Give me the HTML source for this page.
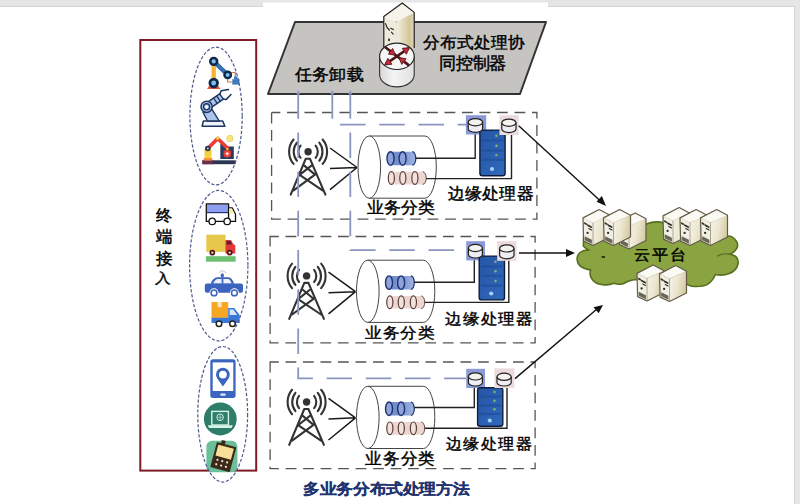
<!DOCTYPE html>
<html><head><meta charset="utf-8"><style>
html,body{margin:0;padding:0;background:#fff;}
body{width:800px;height:504px;overflow:hidden;position:relative;font-family:"Liberation Sans", sans-serif;}
svg{position:absolute;left:0;top:0;}
svg text{font-family:"Liberation Sans", sans-serif;}
</style></head><body>
<svg width="800" height="504" viewBox="0 0 800 504">
<defs>
<linearGradient id="gtube" x1="0" x2="1" y1="0" y2="0"><stop offset="0" stop-color="#6e88c9"/><stop offset="0.55" stop-color="#7d96d3"/><stop offset="1" stop-color="#a3b5e4"/></linearGradient>
<linearGradient id="gb" x1="0" x2="1" y1="0" y2="0"><stop offset="0" stop-color="#4f6fb8"/><stop offset="0.5" stop-color="#7a93d0"/><stop offset="1" stop-color="#aabde8"/></linearGradient>
<linearGradient id="gs" x1="0" x2="1" y1="0" y2="1"><stop offset="0" stop-color="#2555a6"/><stop offset="1" stop-color="#3069bd"/></linearGradient>
<linearGradient id="gsv" x1="0" x2="1" y1="0" y2="0.3"><stop offset="0" stop-color="#f6f3e8"/><stop offset="0.55" stop-color="#ece6d0"/><stop offset="1" stop-color="#d6cca6"/></linearGradient>
<linearGradient id="gtw" x1="0" x2="1" y1="0" y2="0"><stop offset="0" stop-color="#f3f0e2"/><stop offset="0.75" stop-color="#d3c597"/><stop offset="1" stop-color="#e4dcc0"/></linearGradient>
<linearGradient id="gcy" x1="0" x2="1" y1="0" y2="0"><stop offset="0" stop-color="#d8d8d8"/><stop offset="0.4" stop-color="#f4f4f4"/><stop offset="1" stop-color="#e0e0e0"/></linearGradient>
</defs>
<rect x="0" y="0" width="263" height="7" fill="#e5e5e5"/>
<rect x="0" y="6" width="263" height="1" fill="#d4d4d4"/>
<rect x="263" y="0" width="285" height="2.5" fill="#e6e6e6"/>
<rect x="548" y="0" width="252" height="7" fill="#e5e5e5"/>
<rect x="548" y="6" width="246" height="1" fill="#d4d4d4"/>
<rect x="794" y="0" width="6" height="504" fill="#e6e6e6"/>
<rect x="794" y="6" width="1" height="498" fill="#d4d4d4"/>

<path d="M295,22 L546,22 L520,94 L268,94 Z" fill="#c6c4c1" stroke="#333" stroke-width="2" stroke-linejoin="round"/>
<text transform="translate(294.97,79.65) scale(1,0.9429)" x="0" y="0" font-size="16.60" letter-spacing="0.73"  fill="#000" stroke="#000" stroke-width="0.45">任务卸载</text>
<text transform="translate(422.53,48.35) scale(1,0.9598)" x="0" y="0" font-size="16.74" letter-spacing="0.86"  fill="#000" stroke="#000" stroke-width="0.45">分布式处理协</text>
<text transform="translate(438.96,69.47) scale(1,0.9917)" x="0" y="0" font-size="16.98" letter-spacing="-0.28"  fill="#000" stroke="#000" stroke-width="0.45">同控制器</text>

<path d="M383.8,16.4 L396.5,21.5 L396.5,52 L383.8,50 Z" fill="#efebdc"/>
<path d="M396.5,21.5 L414.2,12.4 L414.2,48 L396.5,52 Z" fill="url(#gtw)"/>
<path d="M383.8,16.4 L402.3,3 L414.2,12.4 L396.5,21.5 Z" fill="#f5f3ea"/>
<path d="M383.8,50 L383.8,16.4 L402.3,3 L414.2,12.4 L414.2,48" fill="none" stroke="#222" stroke-width="1.2" stroke-linejoin="round"/>
<path d="M385.6,23.6 Q386.2,27.5 389.6,30.2 M390.8,28.2 L393.4,29.6 M391.4,32.2 L393.2,34.2" fill="none" stroke="#222" stroke-width="1.1" stroke-linecap="round"/>
<ellipse cx="389" cy="39.8" rx="1" ry="1.5" fill="#333"/>
<path d="M379.6,56.3 L379.6,74.5 A17.3,12.4 0 0 0 414.2,74.5 L414.2,56.3" fill="url(#gcy)" stroke="#333" stroke-width="1.1"/>
<ellipse cx="396.9" cy="56.3" rx="17.3" ry="13.2" fill="#f6f6f6" stroke="#222" stroke-width="1.1"/>
<path d="M385,47 L409,65.4 M385.6,64.1 L408.5,48.3" stroke="#4a1414" stroke-width="2.6"/>
<path d="M409.60,47.60 L406.33,54.27 L402.21,48.37 Z M384.60,65.00 L387.87,58.33 L391.99,64.23 Z M395.60,55.20 L388.25,54.11 L392.63,48.39 Z M398.80,57.60 L406.15,58.69 L401.77,64.41 Z" fill="#c8283c" stroke="#4a1414" stroke-width="0.8" stroke-linejoin="round"/>

<g fill="none" stroke="#555" stroke-width="1.3" stroke-dasharray="10.8,6.7" stroke-dashoffset="2.1">
<rect x="271.6" y="112.5" width="265.3" height="106.6"/>
<rect x="270.1" y="236.5" width="265" height="106.4"/>
<rect x="270.1" y="362" width="265" height="106.7"/>
</g>
<g transform="translate(0,0)">
<circle cx="308.1" cy="151.7" r="3.7" fill="#333"/>
<path d="M300.56,145.60 A9.7,9.7 0 0 0 300.56,157.80" fill="none" stroke="#333" stroke-width="2.1" stroke-linecap="round"/>
<path d="M315.64,145.60 A9.7,9.7 0 0 1 315.64,157.80" fill="none" stroke="#333" stroke-width="2.1" stroke-linecap="round"/>
<path d="M296.91,142.64 A14.4,14.4 0 0 0 296.91,160.76" fill="none" stroke="#333" stroke-width="2.1" stroke-linecap="round"/>
<path d="M319.29,142.64 A14.4,14.4 0 0 1 319.29,160.76" fill="none" stroke="#333" stroke-width="2.1" stroke-linecap="round"/>
<path d="M293.55,139.49 A19.0,19.0 0 0 0 293.55,163.91" fill="none" stroke="#333" stroke-width="2.1" stroke-linecap="round"/>
<path d="M322.65,139.49 A19.0,19.0 0 0 1 322.65,163.91" fill="none" stroke="#333" stroke-width="2.1" stroke-linecap="round"/>
<path d="M290.7,194.6 L305.8,158.7 L309.9,158.7 L325.4,194.6 M304.3,165.6 L315,174.6 M311.4,165.6 L299.6,174.9 M299.6,174.9 L322.5,190.3 M315,174.6 L293.6,190.3" fill="none" stroke="#333" stroke-width="2.1" stroke-linecap="round" stroke-linejoin="round"/>
<path d="M330,148 L357,167.5 M330,168.6 L357,167.5 M330,189.7 L357,167.5" stroke="#1a1a1a" stroke-width="1.5" fill="none"/>
<path d="M369.3,136 L424.8,136 A11.5,31.1 0 0 1 424.8,198.2 L369.3,198.2" fill="#fff" stroke="#444" stroke-width="1"/>
<ellipse cx="369.3" cy="167.1" rx="11.3" ry="31.1" fill="#fff" stroke="#444" stroke-width="1"/>
<path d="M390.5,151.7 L412.3,151.7 A3.5,6.75 0 0 1 412.3,165.2 L390.5,165.2 Z" fill="url(#gtube)"/>
<path d="M412.3,151.7 A3.5,6.75 0 0 1 412.3,165.2" fill="none" stroke="#1e3370" stroke-width="1.2"/>
<ellipse cx="390.5" cy="158.45" rx="3.5" ry="6.75" fill="#8ea3da" stroke="#1e3370" stroke-width="1.4"/>
<ellipse cx="402.6" cy="158.45" rx="3.5" ry="6.75" fill="#8ea3da" stroke="#1e3370" stroke-width="1.4"/>
<path d="M391.35,171.7 L422.7,171.7 A3.5,6.35 0 0 1 422.7,184.4 L391.35,184.4 Z" fill="#ecd6d1"/>
<path d="M422.7,171.7 A3.5,6.35 0 0 1 422.7,184.4" fill="none" stroke="#6a4a45" stroke-width="1"/>
<ellipse cx="391.35" cy="178.05" rx="3.05" ry="6.35" fill="#f2e2de" stroke="#5a3a35" stroke-width="1.2"/>
<ellipse cx="402.8" cy="178.05" rx="3.05" ry="6.35" fill="#f2e2de" stroke="#5a3a35" stroke-width="1.2"/>
<ellipse cx="414.9" cy="178.05" rx="3.05" ry="6.35" fill="#f2e2de" stroke="#5a3a35" stroke-width="1.2"/>
</g>
<path d="M415.8,158.3 L475.2,158.3 L475.2,133.5" fill="none" stroke="#222" stroke-width="1.4"/>
<path d="M426.2,178.6 L511.5,178.6 L511.5,134" fill="none" stroke="#222" stroke-width="1.4"/>
<rect x="465.9" y="115.2" width="20.30000000000001" height="19.299999999999997" fill="#8b99d8"/>
<rect x="479.9" y="130.1" width="25.200000000000024" height="45.6" rx="2.5" fill="url(#gs)" stroke="#0f1d3a" stroke-width="1.4"/>
<rect x="481.7" y="139.2" width="21.600000000000023" height="2.4" fill="#1d4890" opacity="0.55"/>
<rect x="481.7" y="149.3" width="21.600000000000023" height="2.4" fill="#1d4890" opacity="0.55"/>
<rect x="481.7" y="158.6" width="21.600000000000023" height="2.4" fill="#1d4890" opacity="0.55"/>
<circle cx="496.4" cy="135.7" r="1.2" fill="#86b86a"/>
<circle cx="496.4" cy="145.8" r="1.2" fill="#86b86a"/>
<circle cx="496.4" cy="155.1" r="1.2" fill="#86b86a"/>
<circle cx="492" cy="169" r="2.1" fill="#a8d0f5"/>
<rect x="499.5" y="115.2" width="19.100000000000023" height="19.799999999999997" fill="#ecdadc"/>
<path d="M468.2,122.19999999999999 L468.2,128.70000000000002 A7.200000000000017,3.6 0 0 0 482.6,128.70000000000002 L482.6,122.19999999999999" fill="#eeeef2" stroke="#222" stroke-width="1.2"/>
<ellipse cx="475.4" cy="122.19999999999999" rx="7.200000000000017" ry="3.6" fill="#f4f3ee" stroke="#222" stroke-width="1.2"/>
<path d="M501.8,122.69999999999999 L501.8,129.0 A7.099999999999994,3.6 0 0 0 516,129.0 L516,122.69999999999999" fill="#eeeef2" stroke="#222" stroke-width="1.2"/>
<ellipse cx="508.9" cy="122.69999999999999" rx="7.099999999999994" ry="3.6" fill="#f4f3ee" stroke="#222" stroke-width="1.2"/>
<text transform="translate(366.50,213.27) scale(1,0.9501)" x="0" y="0" font-size="16.80" letter-spacing="0.85"  fill="#000" stroke="#000" stroke-width="0.45">业务分类</text>
<text transform="translate(447.65,199.16) scale(1,0.9473)" x="0" y="0" font-size="16.63" letter-spacing="0.83"  fill="#000" stroke="#000" stroke-width="0.45">边缘处理器</text>
<g transform="translate(-1.5,124.2)">
<circle cx="308.1" cy="151.7" r="3.7" fill="#333"/>
<path d="M300.56,145.60 A9.7,9.7 0 0 0 300.56,157.80" fill="none" stroke="#333" stroke-width="2.1" stroke-linecap="round"/>
<path d="M315.64,145.60 A9.7,9.7 0 0 1 315.64,157.80" fill="none" stroke="#333" stroke-width="2.1" stroke-linecap="round"/>
<path d="M296.91,142.64 A14.4,14.4 0 0 0 296.91,160.76" fill="none" stroke="#333" stroke-width="2.1" stroke-linecap="round"/>
<path d="M319.29,142.64 A14.4,14.4 0 0 1 319.29,160.76" fill="none" stroke="#333" stroke-width="2.1" stroke-linecap="round"/>
<path d="M293.55,139.49 A19.0,19.0 0 0 0 293.55,163.91" fill="none" stroke="#333" stroke-width="2.1" stroke-linecap="round"/>
<path d="M322.65,139.49 A19.0,19.0 0 0 1 322.65,163.91" fill="none" stroke="#333" stroke-width="2.1" stroke-linecap="round"/>
<path d="M290.7,194.6 L305.8,158.7 L309.9,158.7 L325.4,194.6 M304.3,165.6 L315,174.6 M311.4,165.6 L299.6,174.9 M299.6,174.9 L322.5,190.3 M315,174.6 L293.6,190.3" fill="none" stroke="#333" stroke-width="2.1" stroke-linecap="round" stroke-linejoin="round"/>
<path d="M330,148 L357,167.5 M330,168.6 L357,167.5 M330,189.7 L357,167.5" stroke="#1a1a1a" stroke-width="1.5" fill="none"/>
<path d="M369.3,136 L424.8,136 A11.5,31.1 0 0 1 424.8,198.2 L369.3,198.2" fill="#fff" stroke="#444" stroke-width="1"/>
<ellipse cx="369.3" cy="167.1" rx="11.3" ry="31.1" fill="#fff" stroke="#444" stroke-width="1"/>
<path d="M390.5,151.7 L412.3,151.7 A3.5,6.75 0 0 1 412.3,165.2 L390.5,165.2 Z" fill="url(#gtube)"/>
<path d="M412.3,151.7 A3.5,6.75 0 0 1 412.3,165.2" fill="none" stroke="#1e3370" stroke-width="1.2"/>
<ellipse cx="390.5" cy="158.45" rx="3.5" ry="6.75" fill="#8ea3da" stroke="#1e3370" stroke-width="1.4"/>
<ellipse cx="402.6" cy="158.45" rx="3.5" ry="6.75" fill="#8ea3da" stroke="#1e3370" stroke-width="1.4"/>
<path d="M391.35,171.7 L422.7,171.7 A3.5,6.35 0 0 1 422.7,184.4 L391.35,184.4 Z" fill="#ecd6d1"/>
<path d="M422.7,171.7 A3.5,6.35 0 0 1 422.7,184.4" fill="none" stroke="#6a4a45" stroke-width="1"/>
<ellipse cx="391.35" cy="178.05" rx="3.05" ry="6.35" fill="#f2e2de" stroke="#5a3a35" stroke-width="1.2"/>
<ellipse cx="402.8" cy="178.05" rx="3.05" ry="6.35" fill="#f2e2de" stroke="#5a3a35" stroke-width="1.2"/>
<ellipse cx="414.9" cy="178.05" rx="3.05" ry="6.35" fill="#f2e2de" stroke="#5a3a35" stroke-width="1.2"/>
</g>
<path d="M414.3,282.2 L474.3,282.2 L474.3,259.4" fill="none" stroke="#222" stroke-width="1.4"/>
<path d="M424.7,302.4 L508.8,302.4 L508.8,259.8" fill="none" stroke="#222" stroke-width="1.4"/>
<rect x="466.2" y="241.2" width="18.80000000000001" height="19.19999999999999" fill="#8b99d8"/>
<rect x="479.2" y="256.1" width="25.29999999999999" height="43.80000000000002" rx="2.5" fill="url(#gs)" stroke="#0f1d3a" stroke-width="1.4"/>
<rect x="481.0" y="265.2" width="21.69999999999999" height="2.4" fill="#1d4890" opacity="0.55"/>
<rect x="481.0" y="274.7" width="21.69999999999999" height="2.4" fill="#1d4890" opacity="0.55"/>
<rect x="481.0" y="284.5" width="21.69999999999999" height="2.4" fill="#1d4890" opacity="0.55"/>
<circle cx="495.5" cy="261.7" r="1.2" fill="#86b86a"/>
<circle cx="495.5" cy="271.2" r="1.2" fill="#86b86a"/>
<circle cx="495.5" cy="281" r="1.2" fill="#86b86a"/>
<circle cx="491.2" cy="293.5" r="2.1" fill="#a8d0f5"/>
<rect x="497.2" y="241.2" width="19.19999999999999" height="19.600000000000023" fill="#ecdadc"/>
<path d="M468.4,248.0 L468.4,254.4 A7.0,3.6 0 0 0 482.4,254.4 L482.4,248.0" fill="#eeeef2" stroke="#222" stroke-width="1.2"/>
<ellipse cx="475.4" cy="248.0" rx="7.0" ry="3.6" fill="#f4f3ee" stroke="#222" stroke-width="1.2"/>
<path d="M499.6,248.4 L499.6,255.20000000000002 A7.199999999999989,3.6 0 0 0 514,255.20000000000002 L514,248.4" fill="#eeeef2" stroke="#222" stroke-width="1.2"/>
<ellipse cx="506.8" cy="248.4" rx="7.199999999999989" ry="3.6" fill="#f4f3ee" stroke="#222" stroke-width="1.2"/>
<text transform="translate(365.00,338.33) scale(1,0.9007)" x="0" y="0" font-size="16.37" letter-spacing="0.85"  fill="#000" stroke="#000" stroke-width="0.45">业务分类</text>
<text transform="translate(445.28,323.55) scale(1,0.9062)" x="0" y="0" font-size="16.39" letter-spacing="0.92"  fill="#000" stroke="#000" stroke-width="0.45">边缘处理器</text>
<g transform="translate(-1.5,250.3)">
<circle cx="308.1" cy="151.7" r="3.7" fill="#333"/>
<path d="M300.56,145.60 A9.7,9.7 0 0 0 300.56,157.80" fill="none" stroke="#333" stroke-width="2.1" stroke-linecap="round"/>
<path d="M315.64,145.60 A9.7,9.7 0 0 1 315.64,157.80" fill="none" stroke="#333" stroke-width="2.1" stroke-linecap="round"/>
<path d="M296.91,142.64 A14.4,14.4 0 0 0 296.91,160.76" fill="none" stroke="#333" stroke-width="2.1" stroke-linecap="round"/>
<path d="M319.29,142.64 A14.4,14.4 0 0 1 319.29,160.76" fill="none" stroke="#333" stroke-width="2.1" stroke-linecap="round"/>
<path d="M293.55,139.49 A19.0,19.0 0 0 0 293.55,163.91" fill="none" stroke="#333" stroke-width="2.1" stroke-linecap="round"/>
<path d="M322.65,139.49 A19.0,19.0 0 0 1 322.65,163.91" fill="none" stroke="#333" stroke-width="2.1" stroke-linecap="round"/>
<path d="M290.7,194.6 L305.8,158.7 L309.9,158.7 L325.4,194.6 M304.3,165.6 L315,174.6 M311.4,165.6 L299.6,174.9 M299.6,174.9 L322.5,190.3 M315,174.6 L293.6,190.3" fill="none" stroke="#333" stroke-width="2.1" stroke-linecap="round" stroke-linejoin="round"/>
<path d="M330,148 L357,167.5 M330,168.6 L357,167.5 M330,189.7 L357,167.5" stroke="#1a1a1a" stroke-width="1.5" fill="none"/>
<path d="M369.3,136 L424.8,136 A11.5,31.1 0 0 1 424.8,198.2 L369.3,198.2" fill="#fff" stroke="#444" stroke-width="1"/>
<ellipse cx="369.3" cy="167.1" rx="11.3" ry="31.1" fill="#fff" stroke="#444" stroke-width="1"/>
<path d="M390.5,151.7 L412.3,151.7 A3.5,6.75 0 0 1 412.3,165.2 L390.5,165.2 Z" fill="url(#gtube)"/>
<path d="M412.3,151.7 A3.5,6.75 0 0 1 412.3,165.2" fill="none" stroke="#1e3370" stroke-width="1.2"/>
<ellipse cx="390.5" cy="158.45" rx="3.5" ry="6.75" fill="#8ea3da" stroke="#1e3370" stroke-width="1.4"/>
<ellipse cx="402.6" cy="158.45" rx="3.5" ry="6.75" fill="#8ea3da" stroke="#1e3370" stroke-width="1.4"/>
<path d="M391.35,171.7 L422.7,171.7 A3.5,6.35 0 0 1 422.7,184.4 L391.35,184.4 Z" fill="#ecd6d1"/>
<path d="M422.7,171.7 A3.5,6.35 0 0 1 422.7,184.4" fill="none" stroke="#6a4a45" stroke-width="1"/>
<ellipse cx="391.35" cy="178.05" rx="3.05" ry="6.35" fill="#f2e2de" stroke="#5a3a35" stroke-width="1.2"/>
<ellipse cx="402.8" cy="178.05" rx="3.05" ry="6.35" fill="#f2e2de" stroke="#5a3a35" stroke-width="1.2"/>
<ellipse cx="414.9" cy="178.05" rx="3.05" ry="6.35" fill="#f2e2de" stroke="#5a3a35" stroke-width="1.2"/>
</g>
<path d="M414.3,407.5 L474.3,407.5 L474.3,387" fill="none" stroke="#222" stroke-width="1.4"/>
<path d="M424.7,428.2 L507,428.2 L507,387" fill="none" stroke="#222" stroke-width="1.4"/>
<rect x="466.2" y="368.8" width="18.80000000000001" height="19.19999999999999" fill="#8b99d8"/>
<rect x="477.59999999999997" y="387.8" width="25.200000000000024" height="38.49999999999998" rx="2.5" fill="url(#gs)" stroke="#0f1d3a" stroke-width="1.4"/>
<rect x="479.4" y="395.4" width="21.600000000000023" height="2.4" fill="#1d4890" opacity="0.55"/>
<rect x="479.4" y="404.3" width="21.600000000000023" height="2.4" fill="#1d4890" opacity="0.55"/>
<rect x="479.4" y="412.7" width="21.600000000000023" height="2.4" fill="#1d4890" opacity="0.55"/>
<circle cx="494.5" cy="391.9" r="1.2" fill="#86b86a"/>
<circle cx="494.5" cy="400.8" r="1.2" fill="#86b86a"/>
<circle cx="494.5" cy="409.2" r="1.2" fill="#86b86a"/>
<circle cx="489.8" cy="420.5" r="2.1" fill="#a8d0f5"/>
<rect x="494.4" y="368.4" width="20.0" height="19.600000000000023" fill="#ecdadc"/>
<path d="M468.4,376.40000000000003 L468.4,382.4 A7.0,3.6 0 0 0 482.4,382.4 L482.4,376.40000000000003" fill="#eeeef2" stroke="#222" stroke-width="1.2"/>
<ellipse cx="475.4" cy="376.40000000000003" rx="7.0" ry="3.6" fill="#f4f3ee" stroke="#222" stroke-width="1.2"/>
<path d="M497,376.8 L497,382.4 A7.099999999999994,3.6 0 0 0 511.2,382.4 L511.2,376.8" fill="#eeeef2" stroke="#222" stroke-width="1.2"/>
<ellipse cx="504.1" cy="376.8" rx="7.099999999999994" ry="3.6" fill="#f4f3ee" stroke="#222" stroke-width="1.2"/>
<text transform="translate(365.00,463.69) scale(1,0.9677)" x="0" y="0" font-size="17.01" letter-spacing="0.48"  fill="#000" stroke="#000" stroke-width="0.45">业务分类</text>
<text transform="translate(445.64,448.54) scale(1,0.9304)" x="0" y="0" font-size="16.50" letter-spacing="0.95"  fill="#000" stroke="#000" stroke-width="0.45">边缘处理器</text>
<g fill="none" stroke="#8a95c0" stroke-width="1.8" stroke-dasharray="25.5,13.7">
<path d="M298.2,93.2 L298.2,378.4 L466,378.4"/>
<path d="M332.3,93.2 L332.3,124.6 L466,124.6"/>
<path d="M350.3,93.2 L350.3,250.2 L462,250.2"/>
</g>
<g fill="#8a95c0">
<path d="M298.2,90 l-1.9,4 l3.8,0 z"/><path d="M332.3,90 l-1.9,4 l3.8,0 z"/><path d="M350.3,90 l-1.9,4 l3.8,0 z"/>
</g>

<g stroke="#111" stroke-width="1.4" fill="none">
<path d="M518.7,125.7 L601,201.5"/>
<path d="M519,253 L568,253"/>
<path d="M515,378.6 L597,309"/>
</g>
<g fill="#111">
<path d="M606,206 L596.5,201.8 L601.9,196 Z"/>
<path d="M575,253 L566,249 L566,257 Z"/>
<path d="M603,305 L598.7,313.3 L593.5,307.2 Z"/>
</g>

<path d="M583.4,246.2 Q586,249 589.5,250.3 C581,249 576.5,255 577.2,259.6 C577.5,265 582,268.5 590.6,269.9 C588.5,276 593,284.5 603,284.6 C607,285.2 611,284.5 614,283.3 C618,285 623,284.3 625.6,282.5 C628,281 632,280 636,279.5 L686,283 C688,285.5 692,286.6 695,286.5 C700,286.6 705,285.8 707.5,284.4 C711,282 713.5,279 715.5,274.5 C724,276.5 736,273.5 738,264 C738.8,258 735,255 730.3,254.2 C736,251.5 739.5,246 736.5,241.5 C734,237.5 730,235.8 726.8,236.1 L712,222 L664,223 C660,221.5 652,221 646,224.3 L600,232 L583.5,238 Z" fill="#8aa442" stroke="#56701f" stroke-width="1.6"/>
<path d="M717,256.3 Q722,253.2 730.3,254.2" fill="none" stroke="#55701e" stroke-width="1.3"/>
<rect x="601.6" y="256" width="3.4" height="2" fill="#3a3a12"/>
<g transform="translate(583,209.5)">
<path d="M0,8.4 L10,13.2 L10,36 L0.6,31.6 Z" fill="#f1efe4"/>
<path d="M10,13.2 L27,5.8 L27,27.5 L10,36 Z" fill="url(#gsv)"/>
<path d="M0,8.4 L16.2,0 L27,5.8 L10,13.2 Z" fill="#faf9f3"/>
<path d="M0,8.4 L10,13.2 L27,5.8" fill="none" stroke="#d8d2ba" stroke-width="0.7"/>
<path d="M10,13.2 L10,36" stroke="#9a947a" stroke-width="0.8"/>
<path d="M1.2,12.6 L3.9,13.9 L3.9,15.7 L1.2,14.4 Z M4.2,14.6 L8.9,16.9 L8.9,18.7 L4.2,16.4 Z M5.4,18.2 L8.9,19.9 L8.9,21.3 L5.4,19.6 Z" fill="#2e2c22"/>
<circle cx="4.6" cy="23.4" r="1.15" fill="#2e2c22"/>
<path d="M1.7,26.8 L8.9,30.3 L8.9,34.2 L1.7,30.7 Z" fill="#6a6555"/>
<path d="M0,8.4 L16.2,0 L27,5.8 L27,27.5 L10,36 L0.6,31.6 Z" fill="none" stroke="#625c46" stroke-width="1.2" stroke-linejoin="round"/>
</g>
<g transform="translate(619,213)">
<path d="M0,8.4 L10,13.2 L10,36 L0.6,31.6 Z" fill="#f1efe4"/>
<path d="M10,13.2 L27,5.8 L27,27.5 L10,36 Z" fill="url(#gsv)"/>
<path d="M0,8.4 L16.2,0 L27,5.8 L10,13.2 Z" fill="#faf9f3"/>
<path d="M0,8.4 L10,13.2 L27,5.8" fill="none" stroke="#d8d2ba" stroke-width="0.7"/>
<path d="M10,13.2 L10,36" stroke="#9a947a" stroke-width="0.8"/>
<path d="M1.2,12.6 L3.9,13.9 L3.9,15.7 L1.2,14.4 Z M4.2,14.6 L8.9,16.9 L8.9,18.7 L4.2,16.4 Z M5.4,18.2 L8.9,19.9 L8.9,21.3 L5.4,19.6 Z" fill="#2e2c22"/>
<circle cx="4.6" cy="23.4" r="1.15" fill="#2e2c22"/>
<path d="M1.7,26.8 L8.9,30.3 L8.9,34.2 L1.7,30.7 Z" fill="#6a6555"/>
<path d="M0,8.4 L16.2,0 L27,5.8 L27,27.5 L10,36 L0.6,31.6 Z" fill="none" stroke="#625c46" stroke-width="1.2" stroke-linejoin="round"/>
</g>
<g transform="translate(603.5,209.5)">
<path d="M0,8.4 L10,13.2 L10,36 L0.6,31.6 Z" fill="#f1efe4"/>
<path d="M10,13.2 L27,5.8 L27,27.5 L10,36 Z" fill="url(#gsv)"/>
<path d="M0,8.4 L16.2,0 L27,5.8 L10,13.2 Z" fill="#faf9f3"/>
<path d="M0,8.4 L10,13.2 L27,5.8" fill="none" stroke="#d8d2ba" stroke-width="0.7"/>
<path d="M10,13.2 L10,36" stroke="#9a947a" stroke-width="0.8"/>
<path d="M1.2,12.6 L3.9,13.9 L3.9,15.7 L1.2,14.4 Z M4.2,14.6 L8.9,16.9 L8.9,18.7 L4.2,16.4 Z M5.4,18.2 L8.9,19.9 L8.9,21.3 L5.4,19.6 Z" fill="#2e2c22"/>
<circle cx="4.6" cy="23.4" r="1.15" fill="#2e2c22"/>
<path d="M1.7,26.8 L8.9,30.3 L8.9,34.2 L1.7,30.7 Z" fill="#6a6555"/>
<path d="M0,8.4 L16.2,0 L27,5.8 L27,27.5 L10,36 L0.6,31.6 Z" fill="none" stroke="#625c46" stroke-width="1.2" stroke-linejoin="round"/>
</g>
<g transform="translate(663,207.5)">
<path d="M0,8.4 L10,13.2 L10,36 L0.6,31.6 Z" fill="#f1efe4"/>
<path d="M10,13.2 L27,5.8 L27,27.5 L10,36 Z" fill="url(#gsv)"/>
<path d="M0,8.4 L16.2,0 L27,5.8 L10,13.2 Z" fill="#faf9f3"/>
<path d="M0,8.4 L10,13.2 L27,5.8" fill="none" stroke="#d8d2ba" stroke-width="0.7"/>
<path d="M10,13.2 L10,36" stroke="#9a947a" stroke-width="0.8"/>
<path d="M1.2,12.6 L3.9,13.9 L3.9,15.7 L1.2,14.4 Z M4.2,14.6 L8.9,16.9 L8.9,18.7 L4.2,16.4 Z M5.4,18.2 L8.9,19.9 L8.9,21.3 L5.4,19.6 Z" fill="#2e2c22"/>
<circle cx="4.6" cy="23.4" r="1.15" fill="#2e2c22"/>
<path d="M1.7,26.8 L8.9,30.3 L8.9,34.2 L1.7,30.7 Z" fill="#6a6555"/>
<path d="M0,8.4 L16.2,0 L27,5.8 L27,27.5 L10,36 L0.6,31.6 Z" fill="none" stroke="#625c46" stroke-width="1.2" stroke-linejoin="round"/>
</g>
<g transform="translate(680,209.5)">
<path d="M0,8.4 L10,13.2 L10,36 L0.6,31.6 Z" fill="#f1efe4"/>
<path d="M10,13.2 L27,5.8 L27,27.5 L10,36 Z" fill="url(#gsv)"/>
<path d="M0,8.4 L16.2,0 L27,5.8 L10,13.2 Z" fill="#faf9f3"/>
<path d="M0,8.4 L10,13.2 L27,5.8" fill="none" stroke="#d8d2ba" stroke-width="0.7"/>
<path d="M10,13.2 L10,36" stroke="#9a947a" stroke-width="0.8"/>
<path d="M1.2,12.6 L3.9,13.9 L3.9,15.7 L1.2,14.4 Z M4.2,14.6 L8.9,16.9 L8.9,18.7 L4.2,16.4 Z M5.4,18.2 L8.9,19.9 L8.9,21.3 L5.4,19.6 Z" fill="#2e2c22"/>
<circle cx="4.6" cy="23.4" r="1.15" fill="#2e2c22"/>
<path d="M1.7,26.8 L8.9,30.3 L8.9,34.2 L1.7,30.7 Z" fill="#6a6555"/>
<path d="M0,8.4 L16.2,0 L27,5.8 L27,27.5 L10,36 L0.6,31.6 Z" fill="none" stroke="#625c46" stroke-width="1.2" stroke-linejoin="round"/>
</g>
<g transform="translate(700.5,209.5)">
<path d="M0,8.4 L10,13.2 L10,36 L0.6,31.6 Z" fill="#f1efe4"/>
<path d="M10,13.2 L27,5.8 L27,27.5 L10,36 Z" fill="url(#gsv)"/>
<path d="M0,8.4 L16.2,0 L27,5.8 L10,13.2 Z" fill="#faf9f3"/>
<path d="M0,8.4 L10,13.2 L27,5.8" fill="none" stroke="#d8d2ba" stroke-width="0.7"/>
<path d="M10,13.2 L10,36" stroke="#9a947a" stroke-width="0.8"/>
<path d="M1.2,12.6 L3.9,13.9 L3.9,15.7 L1.2,14.4 Z M4.2,14.6 L8.9,16.9 L8.9,18.7 L4.2,16.4 Z M5.4,18.2 L8.9,19.9 L8.9,21.3 L5.4,19.6 Z" fill="#2e2c22"/>
<circle cx="4.6" cy="23.4" r="1.15" fill="#2e2c22"/>
<path d="M1.7,26.8 L8.9,30.3 L8.9,34.2 L1.7,30.7 Z" fill="#6a6555"/>
<path d="M0,8.4 L16.2,0 L27,5.8 L27,27.5 L10,36 L0.6,31.6 Z" fill="none" stroke="#625c46" stroke-width="1.2" stroke-linejoin="round"/>
</g>
<g transform="translate(637,265)">
<path d="M0,8.4 L10,13.2 L10,36 L0.6,31.6 Z" fill="#f1efe4"/>
<path d="M10,13.2 L27,5.8 L27,27.5 L10,36 Z" fill="url(#gsv)"/>
<path d="M0,8.4 L16.2,0 L27,5.8 L10,13.2 Z" fill="#faf9f3"/>
<path d="M0,8.4 L10,13.2 L27,5.8" fill="none" stroke="#d8d2ba" stroke-width="0.7"/>
<path d="M10,13.2 L10,36" stroke="#9a947a" stroke-width="0.8"/>
<path d="M1.2,12.6 L3.9,13.9 L3.9,15.7 L1.2,14.4 Z M4.2,14.6 L8.9,16.9 L8.9,18.7 L4.2,16.4 Z M5.4,18.2 L8.9,19.9 L8.9,21.3 L5.4,19.6 Z" fill="#2e2c22"/>
<circle cx="4.6" cy="23.4" r="1.15" fill="#2e2c22"/>
<path d="M1.7,26.8 L8.9,30.3 L8.9,34.2 L1.7,30.7 Z" fill="#6a6555"/>
<path d="M0,8.4 L16.2,0 L27,5.8 L27,27.5 L10,36 L0.6,31.6 Z" fill="none" stroke="#625c46" stroke-width="1.2" stroke-linejoin="round"/>
</g>
<g transform="translate(659.5,265.5)">
<path d="M0,8.4 L10,13.2 L10,36 L0.6,31.6 Z" fill="#f1efe4"/>
<path d="M10,13.2 L27,5.8 L27,27.5 L10,36 Z" fill="url(#gsv)"/>
<path d="M0,8.4 L16.2,0 L27,5.8 L10,13.2 Z" fill="#faf9f3"/>
<path d="M0,8.4 L10,13.2 L27,5.8" fill="none" stroke="#d8d2ba" stroke-width="0.7"/>
<path d="M10,13.2 L10,36" stroke="#9a947a" stroke-width="0.8"/>
<path d="M1.2,12.6 L3.9,13.9 L3.9,15.7 L1.2,14.4 Z M4.2,14.6 L8.9,16.9 L8.9,18.7 L4.2,16.4 Z M5.4,18.2 L8.9,19.9 L8.9,21.3 L5.4,19.6 Z" fill="#2e2c22"/>
<circle cx="4.6" cy="23.4" r="1.15" fill="#2e2c22"/>
<path d="M1.7,26.8 L8.9,30.3 L8.9,34.2 L1.7,30.7 Z" fill="#6a6555"/>
<path d="M0,8.4 L16.2,0 L27,5.8 L27,27.5 L10,36 L0.6,31.6 Z" fill="none" stroke="#625c46" stroke-width="1.2" stroke-linejoin="round"/>
</g>
<text transform="translate(633.62,259.54) scale(1,0.9276)" x="0" y="0" font-size="16.55" letter-spacing="1.47"  fill="#000" stroke="#000" stroke-width="0.45">云平台</text>

<rect x="140.3" y="40" width="115.9" height="430.6" fill="none" stroke="#7e1c26" stroke-width="2"/>
<g>
<path d="M207,89 L220.4,89 L218.4,86 L209,86 Z" fill="#e0593b"/>
<rect x="211.5" y="64" width="4.4" height="17" fill="#f5b731"/>
<path d="M213.7,61.4 L227.7,74.9" stroke="#3570b4" stroke-width="4.4" stroke-linecap="round"/>
<path d="M229,72.5 L235.2,72.5 L235.2,79.5 M227.7,78 L227.7,82 L232.5,82" fill="none" stroke="#d9704a" stroke-width="1.1"/>
<rect x="232.3" y="79.2" width="7.2" height="5.4" fill="#3a7cc0"/>
<rect x="234" y="76.5" width="3.5" height="3" fill="#3a7cc0"/>
<circle cx="213.7" cy="61.4" r="3.4" fill="#7fc3ec" stroke="#13294b" stroke-width="2.6"/>
<circle cx="213.7" cy="83" r="3.8" fill="#7fc3ec" stroke="#13294b" stroke-width="2.8"/>
<circle cx="227.7" cy="74.9" r="3.2" fill="#7fc3ec" stroke="#13294b" stroke-width="2.5"/>
</g>
<g stroke="#1e3560" stroke-linejoin="round">
<path d="M203.4,121 L222.7,121 L224.9,126.2 L202.1,126.2 Z" fill="#eef2fa" stroke-width="1.5"/>
<path d="M207.4,121 L219.2,121 L212.2,109.6 L203,112.2 Z" fill="#aac4ec" stroke-width="1.4"/>
<path d="M205.1,103.8 L219.6,93.8 L223.4,99.2 L208.9,109.2 Z" fill="#aac4ec" stroke-width="1.4"/>
<path d="M213.6,98 L217.2,103.3 M216.6,95.9 L220.2,101.2" stroke-width="1.3" fill="none"/>
<path d="M219.8,94.2 L221.2,90.8 L228.5,89.6 M223.2,99 L226,99.6 L231,94.5" fill="none" stroke-width="1.5" stroke-linecap="round"/>
<circle cx="206.6" cy="106.8" r="5.6" fill="#aac4ec" stroke-width="1.5"/>
<circle cx="206.6" cy="106.8" r="3.1" fill="#aac4ec" stroke-width="1.4"/>
<circle cx="206.6" cy="106.8" r="1.6" fill="#fff" stroke="none"/>
</g>
<g>
<rect x="202.4" y="160.3" width="33.2" height="3.9" fill="#2b3553"/>
<rect x="202.4" y="160.3" width="11" height="3.9" fill="#6b2d4e"/>
<rect x="204.5" y="149" width="7" height="11.3" fill="#f2d23c"/>
<rect x="203.6" y="158.2" width="8.8" height="2.2" fill="#f08a3c"/>
<path d="M220.3,159 L220.3,144 L226,144 L226,146.5 L233.8,146.5 L233.8,159 Z" fill="#2b3a5e"/>
<path d="M207.8,148.5 L217.7,138.5 L227.3,148" fill="none" stroke="#e93e3a" stroke-width="3.8" stroke-linecap="round" stroke-linejoin="round"/>
<circle cx="217.7" cy="138.3" r="1.8" fill="#f7c948"/>
<rect x="226.2" y="148" width="2.2" height="2.5" fill="#f7b733"/>
<path d="M223.5,150.5 L231,150.5 L231,154 A3.75,3.5 0 0 1 223.5,154 Z" fill="#e93e3a"/>
<path d="M227.2,152 L227.2,155.5 M225.5,153.7 L229,153.7" stroke="#fff" stroke-width="1"/>
<circle cx="207.8" cy="148.5" r="2.8" fill="#2b3553"/>
<circle cx="207.8" cy="148.5" r="1" fill="#c9c9c9"/>
<circle cx="229.9" cy="138.5" r="3.2" fill="#f7e48a" stroke="#f2cf4a" stroke-width="0.8"/>
</g>
<g stroke="#111" stroke-width="1.3" stroke-linejoin="round">
<rect x="206.3" y="204" width="22.3" height="17.4" fill="#fff"/>
<rect x="207" y="204.7" width="21" height="7.6" fill="#8b9ef0" stroke="none"/>
<path d="M206.8,212.6 L228.2,212.6" stroke="#2a3570" stroke-width="1.2"/>
<path d="M228.6,207.8 L232.2,207.8 L235.5,214.2 L235.5,221.4 L228.6,221.4 Z" fill="#fff"/>
<path d="M229.2,208.5 L231.8,208.5 L234.4,213.6 L229.2,213.6 Z" fill="#f5f0a8" stroke="none"/>
<circle cx="212.2" cy="221.4" r="3.2" fill="#fff"/>
<circle cx="227.2" cy="221.4" r="3.2" fill="#fff"/>
</g>
<g>
<rect x="206.3" y="234.7" width="19.3" height="17.1" fill="#e8c84a"/>
<path d="M225.4,239.9 L231,239.9 L233.2,244 L235.3,245.2 L235.3,253.4 L225.4,253.4 Z" fill="#e23a3a"/>
<path d="M226.6,241 L230.5,241 L232,244.6 L226.6,244.6 Z" fill="#5a2030"/>
<circle cx="212.3" cy="252.6" r="2.9" fill="#4a1a1a"/><circle cx="212.3" cy="252.6" r="1.2" fill="#f0c0b0"/>
<circle cx="229.7" cy="252.6" r="2.9" fill="#4a1a1a"/><circle cx="229.7" cy="252.6" r="1.2" fill="#f0c0b0"/>
<rect x="205.9" y="256.2" width="29.8" height="5.5" fill="#6cc070"/>
</g>
<g>
<path d="M210.5,283.8 Q213,277.4 217.5,277.2 L228.5,277.2 Q232,277.4 234.2,283.8 Z" fill="#3c63be"/>
<path d="M213.2,283.6 Q215,279.2 218,279.1 L221.6,279.1 L221.6,283.6 Z" fill="#eaf1fb"/>
<path d="M223.4,279.1 L228,279.1 Q230.2,279.3 231.6,283.6 L223.4,283.6 Z" fill="#eaf1fb"/>
<rect x="204.8" y="283.4" width="38.2" height="9.4" rx="2.2" fill="#3c63be"/>
<circle cx="214" cy="292.9" r="4.6" fill="#fff"/><circle cx="234.4" cy="292.9" r="4.6" fill="#fff"/>
<circle cx="214" cy="292.9" r="2.9" fill="#fff" stroke="#3c63be" stroke-width="1.5"/>
<circle cx="234.4" cy="292.9" r="2.9" fill="#fff" stroke="#3c63be" stroke-width="1.5"/>
<rect x="220.8" y="273.6" width="3" height="3.8" rx="1.2" fill="#3c63be"/>
<path d="M218.5,273 Q222.3,268.5 226,273" fill="none" stroke="#9fb3e3" stroke-width="0.8"/>
</g>
<g>
<rect x="211.5" y="302" width="16.7" height="15.9" fill="#f5a623"/>
<rect x="217.6" y="302" width="4" height="5.2" fill="#fde7c4"/>
<path d="M228.2,307.9 L234.2,307.9 L239.7,315 L239.7,323 L211.5,323 L211.5,317.8 L228.2,317.8 Z" fill="#3a78d8"/>
<path d="M229.6,309.6 L233.4,309.6 L237.2,315 L229.6,315 Z" fill="#d8e6fb"/>
<circle cx="219" cy="323.8" r="2.8" fill="#fff" stroke="#222" stroke-width="1.5"/>
<circle cx="232.5" cy="323.8" r="2.8" fill="#fff" stroke="#222" stroke-width="1.5"/>
</g>
<g>
<rect x="210.3" y="359.2" width="25.3" height="38.7" rx="2.6" fill="#3a64c0"/>
<rect x="212.7" y="362.4" width="20.6" height="28.6" fill="#fff"/>
<rect x="220.3" y="393.6" width="5.4" height="2.2" rx="1" fill="#dfe8f8"/>
<path d="M222.9,386.6 L217.25,378.57 A6.9,6.9 0 1 1 228.55,378.57 Z" fill="#3a64c0"/>
<circle cx="222.9" cy="374.6" r="3.9" fill="#fff"/>
</g>
<g>
<circle cx="220.3" cy="419" r="16.4" fill="#2e7d6b"/>
<rect x="211.8" y="411.4" width="16.6" height="13.6" fill="none" stroke="#d6f3e6" stroke-width="1.4"/>
<path d="M207.8,425.3 L232.8,425.3 L231.5,427.9 L209,427.9 Z" fill="#d6f3e6"/>
<circle cx="220.1" cy="417.3" r="3.3" fill="none" stroke="#c8eadc" stroke-width="1"/>
<path d="M216.8,417.3 L223.4,417.3 M220.1,414 L220.1,420.6" stroke="#c8eadc" stroke-width="0.6"/>
</g>
<g>
<rect x="206.4" y="440.8" width="31" height="31.4" rx="5.5" fill="#6dbf9a"/>
<g transform="translate(223.3,457.2) rotate(15)">
<rect x="-5.8" y="-16.2" width="4" height="4" fill="#3b2a1a"/>
<rect x="-10.1" y="-12.95" width="20.2" height="25.9" rx="1" fill="#3b2a1a"/>
<rect x="-8" y="-10.8" width="16" height="11.2" fill="#f7df9a"/>
<g fill="#f3e6d2"><circle cx="-5" cy="4" r="1.1"/><circle cx="0" cy="4" r="1.1"/><circle cx="5" cy="4" r="1.1"/>
<circle cx="-5" cy="8.6" r="1.1"/><circle cx="0" cy="8.6" r="1.1"/><circle cx="5" cy="8.6" r="1.1"/></g>
</g>
</g>
<g fill="none" stroke="#4e5a8c" stroke-width="1.2" stroke-dasharray="3.2,1.8">
<ellipse cx="216.05" cy="116" rx="26.15" ry="68.9"/>
<ellipse cx="218.75" cy="265.65" rx="29.15" ry="75.25"/>
<ellipse cx="222.7" cy="414.3" rx="24.9" ry="67.8"/>
</g>
<text transform="translate(155.78,220.71) scale(1,0.9942)" x="0" y="0" font-size="16.20" letter-spacing="0.00"  fill="#000" stroke="#000" stroke-width="0.45">终</text>
<text transform="translate(156.01,241.62) scale(1,0.9700)" x="0" y="0" font-size="16.20" letter-spacing="0.00"  fill="#000" stroke="#000" stroke-width="0.45">端</text>
<text transform="translate(155.93,263.64) scale(1,0.9691)" x="0" y="0" font-size="16.20" letter-spacing="0.00"  fill="#000" stroke="#000" stroke-width="0.45">接</text>
<text transform="translate(155.47,282.80) scale(1,0.8965)" x="0" y="0" font-size="15.20" letter-spacing="0.00"  fill="#000" stroke="#000" stroke-width="0.45">入</text>

<text transform="translate(303.18,494.32) scale(1,0.8913)" x="0" y="0" font-size="16.61" letter-spacing="-0.29" font-weight="bold" fill="#1f3370" stroke="#1f3370" stroke-width="0.25">多业务分布式处理方法</text>
</svg>
</body></html>
